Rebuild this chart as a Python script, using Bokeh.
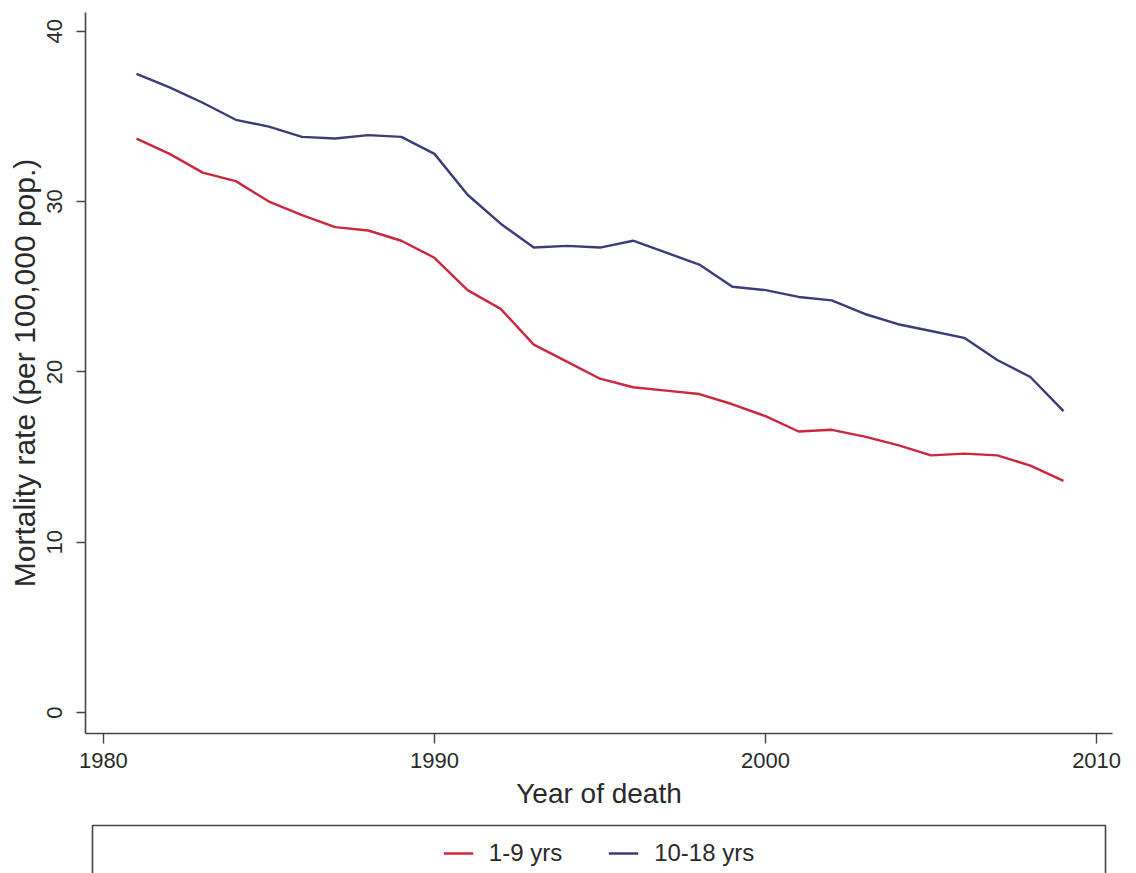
from bokeh.plotting import figure
from bokeh.models import Range1d, Legend, LegendItem, FixedTicker, BoxAnnotation
from bokeh.layouts import column
from bokeh.embed import file_html
from bokeh.resources import INLINE

years = list(range(1981, 2010))
rate_1_9 = [33.7, 32.8, 31.7, 31.2, 30.0, 29.2, 28.5, 28.3, 27.7, 26.7,
            24.8, 23.7, 21.6, 20.6, 19.6, 19.1, 18.9, 18.7, 18.1, 17.4,
            16.5, 16.6, 16.2, 15.7, 15.1, 15.2, 15.1, 14.5, 13.6]
rate_10_18 = [37.5, 36.7, 35.8, 34.8, 34.4, 33.8, 33.7, 33.9, 33.8, 32.8,
              30.4, 28.7, 27.3, 27.4, 27.3, 27.7, 27.0, 26.3, 25.0, 24.8,
              24.4, 24.2, 23.4, 22.8, 22.4, 22.0, 20.7, 19.7, 17.7]
labels = ["1-9 yrs", "10-18 yrs"]
x_ticks = [1980, 1990, 2000, 2010]
y_ticks = [0, 10, 20, 30, 40]

RED = "#c9283d"
BLUE = "#3b3d7a"
AXIS = "#444444"
TEXT = "#2a2a2a"
FONT = "Liberation Sans"

p = figure(width=1136, height=815, output_backend="svg", toolbar_location=None,
           x_range=Range1d(1979.46, 2010.48), y_range=Range1d(-1.23, 41.1),
           min_border_left=85, min_border_right=24, min_border_top=12,
           min_border_bottom=82)
p.outline_line_color = None
p.xgrid.visible = False
p.ygrid.visible = False

p.line(years, rate_1_9, line_color=RED, line_width=2.4)
p.line(years, rate_10_18, line_color=BLUE, line_width=2.4)

xa = p.xaxis[0]
xa.ticker = FixedTicker(ticks=x_ticks)
xa.minor_tick_line_color = None
xa.major_tick_in = 0
xa.major_tick_out = 10
xa.axis_line_color = AXIS
xa.axis_line_width = 1.6
xa.major_tick_line_color = AXIS
xa.major_tick_line_width = 1.4
xa.major_label_text_font = FONT
xa.major_label_text_font_size = "22px"
xa.major_label_text_color = TEXT
xa.major_label_standoff = 9
xa.axis_label = "Year of death"
xa.axis_label_text_font = FONT
xa.axis_label_text_font_size = "28px"
xa.axis_label_text_font_style = "normal"
xa.axis_label_text_color = TEXT
xa.axis_label_standoff = 7

ya = p.yaxis[0]
ya.ticker = FixedTicker(ticks=y_ticks)
ya.minor_tick_line_color = None
ya.major_tick_in = 0
ya.major_tick_out = 9
ya.axis_line_color = AXIS
ya.axis_line_width = 1.6
ya.major_tick_line_color = AXIS
ya.major_tick_line_width = 1.4
ya.major_label_orientation = "vertical"
ya.major_label_text_font = FONT
ya.major_label_text_font_size = "22px"
ya.major_label_text_color = TEXT
ya.major_label_standoff = 14
ya.axis_label = "Mortality rate (per 100,000 pop.)"
ya.axis_label_text_font = FONT
ya.axis_label_text_font_size = "30px"
ya.axis_label_text_font_style = "normal"
ya.axis_label_text_color = TEXT
ya.axis_label_standoff = 4

# legend panel (frame aligned with the main plot's frame)
q = figure(width=1136, height=58, output_backend="svg", toolbar_location=None,
           x_range=Range1d(0, 1027), y_range=Range1d(0, 50),
           x_axis_type=None, y_axis_type=None,
           min_border_left=85, min_border_right=24, min_border_top=8,
           min_border_bottom=0)
q.xgrid.visible = False
q.ygrid.visible = False
q.outline_line_color = None
q.add_layout(BoxAnnotation(left=7, right=1020, top=48, bottom=-10,
                           fill_color=None, fill_alpha=0,
                           line_color=AXIS, line_alpha=1.0, line_width=1.6))
r1 = q.line([-50, -40], [-50, -40], line_color=RED, line_width=2.4)
r2 = q.line([-50, -40], [-50, -40], line_color=BLUE, line_width=2.4)
leg = Legend(items=[LegendItem(label=labels[0], renderers=[r1]),
                    LegendItem(label=labels[1], renderers=[r2])],
             orientation="horizontal", location="top_center",
             border_line_color=None, background_fill_alpha=0,
             label_text_font=FONT, label_text_font_size="24px",
             label_text_color=TEXT, glyph_width=30, glyph_height=20,
             label_standoff=16, spacing=46, padding=0, margin=16)
q.add_layout(leg, "center")

layout = column(p, q, spacing=0)
open("out.html", "w").write(file_html(layout, INLINE))
